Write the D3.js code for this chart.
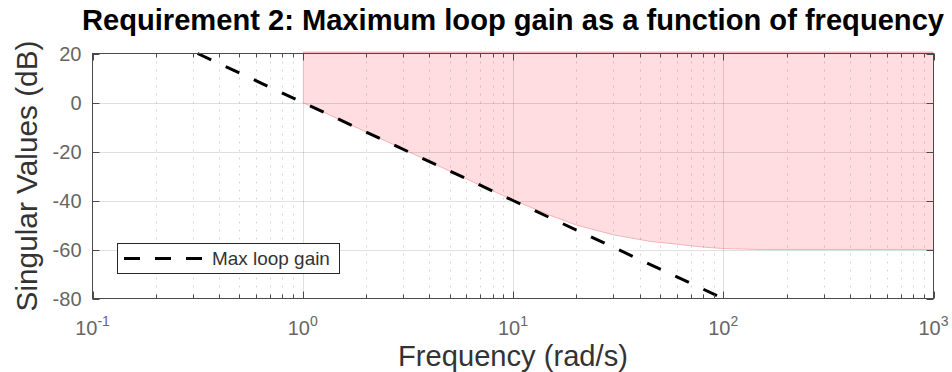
<!DOCTYPE html>
<html>
<head>
<meta charset="utf-8">
<script src="https://cdn.jsdelivr.net/npm/d3@7"></script>
<style>
  html, body { margin: 0; padding: 0; background: #fff; }
  svg { display: block; font-family: "Liberation Sans", Arial, Helvetica, sans-serif; }
</style>
</head>
<body>
<svg id="chart" width="952" height="372"></svg>
<script>
// ---- data ----
const titleText = "Requirement 2: Maximum loop gain as a function of frequency";
const xLabelText = "Frequency (rad/s)";
const yLabelText = "Singular Values (dB)";
const legendLabel = "Max loop gain";

const xTickExponents = [-1, 0, 1, 2, 3];
const yTickValues = [-80, -60, -40, -20, 0, 20];

// Max loop gain (dashed line)
const lineFreq = [0.3162, 1, 10, 100];
const lineDb = [20, 0, -40, -80];

// Shaded forbidden region: lower boundary
const boundFreq = [1, 2, 3, 5, 7, 10, 15, 20, 30, 45, 60, 80, 100, 150, 1000];
const boundDb = [0, -12, -19, -28, -33.8, -39.8, -46, -50, -54, -56.7, -57.8, -59, -59.6, -60, -60];
const boundTopDb = 20;

// ---- layout ----
const svg = d3.select("#chart");
const L = 92.5, R = 933.5, T = 53.5, B = 298.5;

const x = d3.scaleLog().domain([0.1, 1000]).range([L, R]);
const y = d3.scaleLinear().domain([-80, 20]).range([B, T]);

const axisColor = "#4a4a4a";

// background
svg.append("rect").attr("x", L).attr("y", T).attr("width", R - L).attr("height", B - T).attr("fill", "#fff");

// shaded region
const boundPts = boundFreq.map((f, i) => [x(f), y(boundDb[i])]);
const polyPts = boundPts.concat([[x(boundFreq[boundFreq.length - 1]), y(boundTopDb)], [x(boundFreq[0]), y(boundTopDb)]]);
svg.append("path")
  .attr("d", d3.line()(polyPts) + "Z")
  .attr("fill", "#ffdde0")
  .attr("stroke", "none");
svg.append("path")
  .attr("d", d3.line()(boundPts))
  .attr("fill", "none")
  .attr("stroke", "#f6b3b6")
  .attr("stroke-width", 1);
svg.append("line")
  .attr("x1", x(boundFreq[0])).attr("x2", x(boundFreq[boundFreq.length - 1]))
  .attr("y1", y(boundTopDb) - 1).attr("y2", y(boundTopDb) - 1)
  .attr("stroke", "#f5b8bb").attr("stroke-width", 2);

// grid
const gridG = svg.append("g");
const minorVals = [];
xTickExponents.slice(0, -1).forEach(e => {
  for (let k = 2; k <= 9; k++) minorVals.push(k * Math.pow(10, e));
});
gridG.selectAll("line.minor").data(minorVals).enter().append("line")
  .attr("x1", d => Math.round(x(d)) + 0.5).attr("x2", d => Math.round(x(d)) + 0.5)
  .attr("y1", T).attr("y2", B)
  .attr("stroke", "rgba(38,38,38,0.2)")
  .attr("stroke-dasharray", "2,6");
gridG.selectAll("line.majx").data(xTickExponents.slice(1, -1)).enter().append("line")
  .attr("x1", d => Math.round(x(Math.pow(10, d))) + 0.5).attr("x2", d => Math.round(x(Math.pow(10, d))) + 0.5)
  .attr("y1", T).attr("y2", B)
  .attr("stroke", "rgba(38,38,38,0.15)");
gridG.selectAll("line.majy").data(yTickValues.slice(1, -1)).enter().append("line")
  .attr("x1", L).attr("x2", R)
  .attr("y1", d => Math.round(y(d)) + 0.5).attr("y2", d => Math.round(y(d)) + 0.5)
  .attr("stroke", "rgba(38,38,38,0.15)");

// dashed line
svg.append("path")
  .datum(lineFreq.map((f, i) => [f, lineDb[i]]))
  .attr("d", d3.line().x(d => x(d[0])).y(d => y(d[1])))
  .attr("fill", "none")
  .attr("stroke", "#000")
  .attr("stroke-width", 3)
  .attr("stroke-dasharray", "15,16");

// axes box
svg.append("rect").attr("x", L).attr("y", T).attr("width", R - L).attr("height", B - T)
  .attr("fill", "none").attr("stroke", axisColor).attr("stroke-width", 1);

// ticks
const tickG = svg.append("g").attr("stroke", axisColor).attr("stroke-width", 1);
xTickExponents.forEach(e => {
  const px = Math.round(x(Math.pow(10, e))) + 0.5;
  tickG.append("line").attr("x1", px).attr("x2", px).attr("y1", B).attr("y2", B - 7);
  tickG.append("line").attr("x1", px).attr("x2", px).attr("y1", T).attr("y2", T + 7);
});
minorVals.forEach(v => {
  const px = Math.round(x(v)) + 0.5;
  tickG.append("line").attr("x1", px).attr("x2", px).attr("y1", B).attr("y2", B - 4);
  tickG.append("line").attr("x1", px).attr("x2", px).attr("y1", T).attr("y2", T + 4);
});
yTickValues.forEach(v => {
  const py = Math.round(y(v)) + 0.5;
  tickG.append("line").attr("x1", L).attr("x2", L + 7).attr("y1", py).attr("y2", py);
  tickG.append("line").attr("x1", R).attr("x2", R - 7).attr("y1", py).attr("y2", py);
});

// tick labels
const tickColor = "#666666";
yTickValues.forEach(v => {
  svg.append("text")
    .attr("x", L - 11).attr("y", y(v) + 7)
    .attr("text-anchor", "end")
    .attr("font-size", 20)
    .attr("fill", tickColor)
    .text(v);
});
xTickExponents.forEach(e => {
  const t = svg.append("text")
    .attr("x", x(Math.pow(10, e))).attr("y", 335)
    .attr("text-anchor", "middle")
    .attr("font-size", 20)
    .attr("fill", tickColor);
  t.append("tspan").text("10");
  t.append("tspan").attr("font-size", 14).attr("dy", -9).text(String(e));
});

function fitWidth(sel, target) {
  const fs = +sel.attr("font-size");
  const w = sel.node().getComputedTextLength();
  sel.attr("font-size", (fs * target / w).toFixed(2));
}

// title
const title = svg.append("text")
  .attr("x", (L + R) / 2).attr("y", 30)
  .attr("text-anchor", "middle")
  .attr("font-size", 24).attr("font-weight", "bold")
  .attr("fill", "#000")
  .text(titleText);
fitWidth(title, 862);

// axis labels
const xl = svg.append("text")
  .attr("x", (L + R) / 2).attr("y", 366)
  .attr("text-anchor", "middle")
  .attr("font-size", 28)
  .attr("fill", "#333333")
  .text(xLabelText);
fitWidth(xl, 230);

const yl = svg.append("text")
  .attr("transform", `translate(37,${(T + B) / 2}) rotate(-90)`)
  .attr("text-anchor", "middle")
  .attr("font-size", 28)
  .attr("fill", "#333333")
  .text(yLabelText);
fitWidth(yl, 271);

// legend
const lg = svg.append("g");
lg.append("rect").attr("x", 117.5).attr("y", 243.5).attr("width", 222).attr("height", 30)
  .attr("fill", "#fff").attr("stroke", "#262626").attr("stroke-width", 1);
lg.append("line").attr("x1", 124).attr("x2", 206).attr("y1", 258.5).attr("y2", 258.5)
  .attr("stroke", "#000").attr("stroke-width", 3).attr("stroke-dasharray", "16,15");
const lt = lg.append("text").attr("x", 212).attr("y", 265)
  .attr("font-size", 18).attr("fill", "#333333").text(legendLabel);
fitWidth(lt, 118);
</script>
</body>
</html>
